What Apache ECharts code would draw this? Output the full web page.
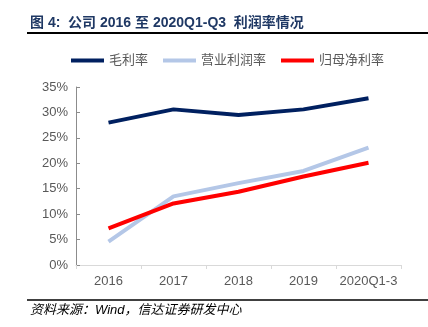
<!DOCTYPE html>
<html>
<head>
<meta charset="utf-8">
<script src="https://cdn.jsdelivr.net/npm/echarts@6/dist/echarts.min.js"></script>
<style>
  html, body { margin: 0; padding: 0; background: #fff; }
  #chart { width: 428px; height: 327px; }
</style>
</head>
<body>
<div id="chart"></div>
<script>
// Profit margins by period (%)
const categories = ['2016', '2017', '2018', '2019', '2020Q1-3'];
const grossMargin = [28.0, 30.6, 29.5, 30.6, 32.8];        // 毛利率
const operatingMargin = [4.6, 13.5, 16.1, 18.5, 23.1];     // 营业利润率
const netMargin = [7.2, 12.1, 14.4, 17.4, 20.1];           // 归母净利率
const yTicks = { min: 0, max: 35, interval: 5 };

const chart = echarts.init(document.getElementById('chart'));

function lineSeries(name, data, color) {
  return {
    name: name,
    type: 'line',
    data: data,
    symbol: 'none',
    lineStyle: { width: 4, color: color },
    itemStyle: { color: color }
  };
}

chart.setOption({
  animation: false,
  textStyle: { fontFamily: 'Liberation Sans, Noto Sans CJK SC, sans-serif' },
  graphic: [
    {
      type: 'text', left: 30, top: 16,
      style: {
        text: '图 4:  公司 2016 至 2020Q1-Q3  利润率情况',
        font: 'bold 14px "Liberation Sans", "Noto Sans CJK SC", sans-serif',
        fill: '#1f3864'
      }
    },
    { type: 'line', shape: { x1: 27, y1: 33, x2: 428, y2: 33 }, style: { stroke: '#000', lineWidth: 2 } },
    { type: 'line', shape: { x1: 27, y1: 300, x2: 428, y2: 300 }, style: { stroke: '#000', lineWidth: 1.5 } },
    {
      type: 'text', left: 30, top: 304,
      style: {
        text: '资料来源：Wind，信达证券研发中心',
        font: 'italic 13px "Liberation Sans", "Noto Sans CJK SC", sans-serif',
        fill: '#000'
      }
    }
  ],
  legend: {
    top: 49,
    left: 66,
    itemWidth: 33,
    itemHeight: 4,
    itemGap: 15,
    icon: 'rect',
    textStyle: { fontSize: 13, color: '#595959' },
    data: ['毛利率', '营业利润率', '归母净利率']
  },
  grid: { left: 76, right: 27, top: 87, bottom: 62 },
  xAxis: {
    type: 'category',
    data: categories,
    boundaryGap: true,
    axisLine: { lineStyle: { color: '#d9d9d9' } },
    axisTick: { show: true, alignWithLabel: false, length: 4, lineStyle: { color: '#d9d9d9' } },
    axisLabel: { fontSize: 13, color: '#595959', margin: 10, interval: 0 }
  },
  yAxis: {
    type: 'value',
    min: yTicks.min,
    max: yTicks.max,
    interval: yTicks.interval,
    axisLine: { show: true, lineStyle: { color: '#8c8c8c' } },
    axisTick: { show: true, inside: true, length: 4, lineStyle: { color: '#8c8c8c' } },
    splitLine: { show: false },
    axisLabel: { fontSize: 13, color: '#595959', formatter: '{value}%', margin: 8 }
  },
  series: [
    lineSeries('毛利率', grossMargin, '#002060'),
    lineSeries('营业利润率', operatingMargin, '#b4c7e7'),
    lineSeries('归母净利率', netMargin, '#ff0000')
  ]
});
</script>
</body>
</html>
